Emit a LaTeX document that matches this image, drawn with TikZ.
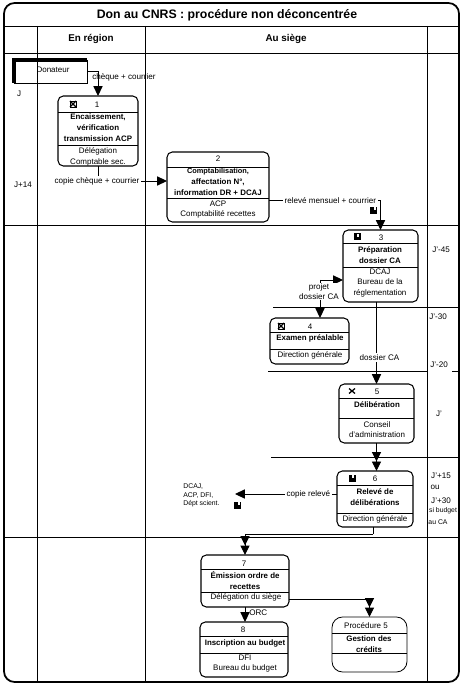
\documentclass[tikz,border=0pt]{standalone}
\usepackage{fontspec}
\setmainfont{Liberation Sans}
\usetikzlibrary{arrows.meta}
\def\px{0.02cm}
\tikzset{
    grille/.style={line width=0.55pt},
    cadre/.style={line width=1pt,rounded corners=6pt},
    boite/.style={draw,line width=0.6pt,rounded corners=3pt,inner sep=0pt,outer sep=0pt},
    boiteproc/.style={boite,line width=0.45pt,rounded corners=6pt},
    lien/.style={line width=0.55pt,-{Triangle[length=5.6pt,width=5.2pt]}},
    lien2/.style={line width=0.55pt,-{Triangle[length=5.4pt,width=5.2pt]Triangle[length=5.4pt,width=5.2pt]}},
    titre/.style={inner sep=0pt,font=\fontsize{7}{8}\selectfont\bfseries},
    couloir/.style={inner sep=0pt,font=\fontsize{5.6}{7}\selectfont\bfseries},
    action/.style={inner sep=0pt,align=center,yshift=-0.4pt,font=\fontsize{4.5}{6.2}\selectfont\bfseries},
    acteur/.style={inner sep=0pt,align=center,yshift=-0.5pt,font=\fontsize{4.55}{5.8}\selectfont},
    note/.style={inner sep=0pt,align=center,yshift=-0.3pt,font=\fontsize{4.6}{5.4}\selectfont},
    petit/.style={inner sep=0pt,align=center,font=\fontsize{3.9}{5}\selectfont},
    etiq/.style={note,fill=white,inner sep=1pt}
}
\newcommand{\boitetrois}[7]{
    \node[boite,minimum width={(#4-#2)*\px},minimum height={(#5-#3)*\px}] (#1) at ({(#2+#4)/2},{(#3+#5)/2}) {};
    \draw[line width=0.5pt] (#1.west |- 0,#6) -- (#1.east |- 0,#6);
    \draw[line width=0.5pt] (#1.west |- 0,#7) -- (#1.east |- 0,#7);
}
\newcommand{\iconex}[2]{
    \draw[line width=0.4pt] (#1-3,#2-3) rectangle (#1+3,#2+3);
    \draw[line width=0.7pt] (#1-3,#2-3) -- (#1+3,#2+3) (#1-3,#2+3) -- (#1+3,#2-3);
}
\newcommand{\iconev}[2]{
    \draw[line width=0.7pt] (#1-3,#2-2.5) -- (#1,#2) -- (#1+3,#2-2.5) (#1-3,#2+2.5) -- (#1,#2) -- (#1+3,#2+2.5);
}
\newcommand{\iconen}[2]{
    \fill (#1-3.5,#2-3.5) rectangle (#1+3.5,#2+3.5);
    \fill[white] (#1,#2-3) rectangle (#1+2,#2);
}
\begin{document}
\begin{tikzpicture}[x=\px,y=-\px]
    \useasboundingbox (0,0) rectangle (467,688);
    \draw[cadre] (4,3) rectangle (459,682);
    \draw[grille] (4,26) -- (459,26);
    \draw[grille] (4,53) -- (459,53);
    \draw[grille] (4,225) -- (459,225);
    \draw[grille] (4,537) -- (459,537);
    \draw[grille] (37,26) -- (37,682);
    \draw[grille] (145,26) -- (145,682);
    \draw[grille] (427,26) -- (427,682);
    \draw[grille] (273,307) -- (459,307);
    \draw[grille] (268,371) -- (427,371);
    \draw[grille] (452,371) -- (459,371);
    \draw[grille] (271,457) -- (459,457);
    \node[titre] (titre) at (227,15) {Don au CNRS : procédure non déconcentrée};
    \node[couloir] (region) at (91,39) {En région};
    \node[couloir] (siege) at (286,39) {Au siège};

    \node[draw,line width=0.5pt,inner sep=0pt,outer sep=0pt,minimum width=73*\px,minimum height=23*\px] (don) at (50.5,71.5) {};
    \draw[line width=2.2pt] (don.south west) -- (don.north west) -- (don.north east);
    \node[acteur] (donateur) at (53,69) {Donateur};

    \boitetrois{b1}{58}{96}{138}{166}{112}{145}
    \boitetrois{b2}{167}{152}{269}{222}{167}{198}
    \boitetrois{b3}{343}{230}{418}{302}{243}{267}
    \boitetrois{b4}{270}{318}{349}{364}{332}{349}
    \boitetrois{b5}{339}{384}{414}{443}{398}{418}
    \boitetrois{b6}{337}{471}{413}{527}{485}{513}
    \boitetrois{b7}{201}{555}{289}{607}{569}{592}
    \boitetrois{b8}{200}{622}{288}{677}{636}{653}
    \node[boiteproc,minimum width=75*\px,minimum height=55*\px] (p5) at (369.5,644.5) {};
    \draw[line width=0.45pt] (p5.west |- 0,633) -- (p5.east |- 0,633);
    \draw[line width=0.45pt] (p5.west |- 0,653) -- (p5.east |- 0,653);

    \node[acteur] (n1) at (97,104) {1};
    \node[action] (t1) at (98,127) {Encaissement,\\vérification\\transmission ACP};
    \node[acteur] (a1) at (98,156) {Délégation\\Comptable sec.};
    \node[acteur] (n2) at (218,158) {2};
    \node[action] (t2) at (218,181) {\fontsize{4.2}{5.8}\selectfont Comptabilisation,\\affectation N°,\\information DR + DCAJ};
    \node[acteur] (a2) at (218,209) {ACP\\Comptabilité recettes};
    \node[acteur] (n3) at (381,237) {3};
    \node[action] (t3) at (380,254.5) {Préparation\\dossier CA};
    \node[acteur,font=\fontsize{4.55}{6.1}\selectfont] (a3) at (380,282) {DCAJ\\Bureau de la\\réglementation};
    \node[acteur] (n4) at (310,326) {4};
    \node[action] (t4) at (310,338) {Examen préalable};
    \node[acteur] (a4) at (310,355) {Direction générale};
    \node[acteur] (n5) at (377,391) {5};
    \node[action] (t5) at (377,404) {Délibération};
    \node[acteur] (a5) at (377,429) {Conseil\\d'administration};
    \node[acteur] (n6) at (375,478) {6};
    \node[action] (t6) at (375,496) {Relevé de\\délibérations};
    \node[acteur] (a6) at (375,519) {Direction générale};
    \node[acteur] (n7) at (244,563) {7};
    \node[action] (t7) at (245,580) {Émission ordre de\\recettes};
    \node[acteur] (a7) at (246,597) {Délégation du siège};
    \node[acteur] (n8) at (243,629) {8};
    \node[action] (t8) at (245,643) {Inscription au budget};
    \node[acteur] (a8) at (245,663) {DFI\\Bureau du budget};
    \node[acteur] (n9) at (366,625) {Procédure 5};
    \node[action] (t9) at (369,643.5) {Gestion des\\crédits};

    \iconex{73}{104}
    \iconen{357}{237}
    \iconex{281}{326}
    \iconev{352}{391}
    \iconen{352}{478}
    \iconen{373.5}{210.5}
    \iconen{237.5}{505}

    \coordinate (proj) at (320,280);
    \coordinate (dest) at (235,494);
    \coordinate (coude) at (373,534);
    \draw[lien] (don.east) -| (b1.north);
    \draw[lien] (b1.south) |- (b2.west |- 0,181);
    \node[etiq] (l1) at (97,181) {copie chèque + courrier};
    \node[note] (l2) at (124,77) {chèque + courrier};
    \draw[lien] (b2.east |- 0,200) -| node[etiq,pos=0.275] (l3) {relevé mensuel + courrier} (b3.north);
    \draw[lien] (proj) -- (b3.west |- proj);
    \draw[lien] (proj) -- (proj |- b4.north);
    \node[etiq,inner sep=0.5pt] (l4) at (319,291) {projet\\dossier CA};
    \draw[lien] (b5.north |- b3.south) -- node[etiq,pos=0.67,xshift=3*\px] (l5) {dossier CA} (b5.north);
    \draw[lien2] (b5.south) -- (b5.south |- b6.north);
    \draw[lien] (b6.west |- dest) -- node[etiq,pos=0.28] (l6) {copie relevé} (dest);
    \draw[line width=0.55pt] (coude |- b6.south) -- (coude);
    \draw[lien2] (coude) -| (b7.north);
    \draw[lien] (b7.south) -- (b7.south |- b8.north);
    \node[note,anchor=west] (l7) at (249,612) {ORC};
    \draw[lien2] (b7.east |- 0,599) -| (p5.north);

    \node[petit,anchor=west,align=left] (dests) at (183,495.5) {DCAJ,\\ACP, DFI,\\Dépt scient.};
    \node[acteur] (j0) at (19,93) {J};
    \node[note] (j1) at (23,184) {J+14};
    \node[note] (j2) at (441,249) {J'-45};
    \node[note] (j3) at (438,316) {J'-30};
    \node[note] (j4) at (439,364) {J'-20};
    \node[acteur] (j5) at (439,413) {J'};
    \node[note] (j6) at (441,475) {J'+15};
    \node[note] (j7) at (435,487) {ou};
    \node[note] (j8) at (441,500) {J'+30};
    \node[petit] (j9) at (443,511) {si budget};
    \node[petit] (j10) at (438,522) {au CA};
\end{tikzpicture}
\end{document}
